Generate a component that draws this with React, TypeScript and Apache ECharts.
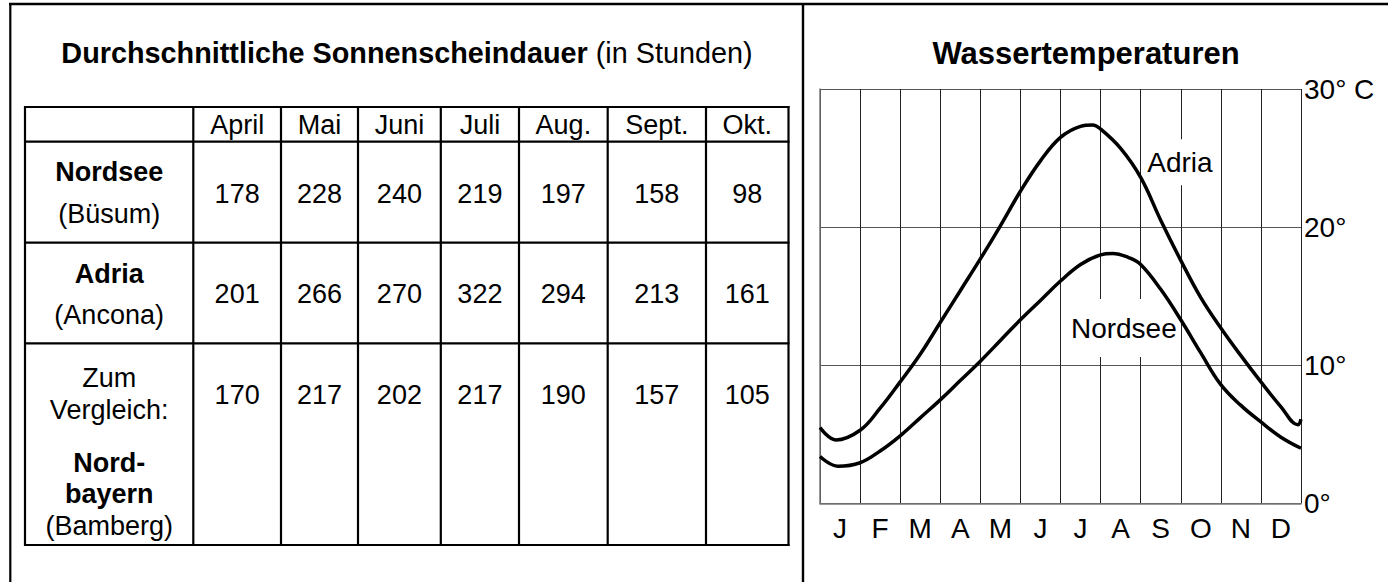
import React, { useEffect, useRef } from "react";
import * as echarts from "echarts";

// ---- data ----
const tableMonths = ["April", "Mai", "Juni", "Juli", "Aug.", "Sept.", "Okt."];
const nordseeHours = [178, 228, 240, 219, 197, 158, 98];
const adriaHours = [201, 266, 270, 322, 294, 213, 161];
const bayernHours = [170, 217, 202, 217, 190, 157, 105];

const tempMonths = ["J", "F", "M", "A", "M", "J", "J", "A", "S", "O", "N", "D"];
// [month position (0 = start of Jan, 12 = end of Dec), water temperature °C]
const adriaTemp: [number, number][] = [
  [0, 5.5], [0.4, 4.6], [1.0, 5.3], [1.5, 6.9], [2.0, 8.8], [2.5, 10.8], [3.0, 13.1],
  [3.5, 15.4], [4.0, 17.7], [4.5, 20.1], [5.0, 22.6], [5.5, 24.8], [6.0, 26.5],
  [6.5, 27.3], [6.8, 27.4], [7.0, 27.1], [7.5, 25.7], [8.0, 23.6], [8.5, 20.5],
  [9.0, 17.6], [9.5, 14.9], [10.0, 12.7], [10.5, 10.7], [11.0, 8.8], [11.5, 7.0],
  [11.92, 5.7], [12.0, 6.1],
];
const nordseeTemp: [number, number][] = [
  [0, 3.4], [0.45, 2.7], [1.0, 2.95], [1.5, 3.8], [2.0, 4.9], [2.5, 6.2], [3.0, 7.5],
  [3.5, 8.9], [4.0, 10.3], [4.5, 11.8], [5.0, 13.3], [5.5, 14.7], [6.0, 16.1],
  [6.5, 17.3], [7.0, 18.0], [7.3, 18.1], [7.7, 17.8], [8.0, 17.3], [8.5, 15.5],
  [9.0, 13.3], [9.5, 10.9], [10.0, 8.6], [10.5, 7.1], [11.0, 5.9], [11.5, 4.8], [12, 4.0],
];
const tempTicks = [0, 10, 20, 30];

// ---- layout ----
const FONT = '"Liberation Sans", Arial, Helvetica, sans-serif';
const FS = 27;
const colX = [25, 193.3, 281, 358, 440.8, 519, 607.7, 706, 788.5];
const rowY = [107, 141.7, 242.7, 343.3, 545];
const ADRIA_LABEL_AT = [8.98, 24.7];
const NORDSEE_LABEL_AT = [7.58, 12.7];

function txt(text: string, x: number, y: number, bold = false, size = FS) {
  return {
    type: "text",
    x,
    y,
    silent: true,
    style: {
      text,
      fill: "#000",
      fontSize: size,
      fontFamily: FONT,
      fontWeight: bold ? "bold" : "normal",
      align: "center",
      verticalAlign: "middle",
    },
  };
}

function line(x1: number, y1: number, x2: number, y2: number, w = 2.2) {
  return {
    type: "line",
    silent: true,
    shape: { x1, y1, x2, y2 },
    style: { stroke: "#000", lineWidth: w },
  };
}

function buildGraphic() {
  const els: any[] = [];
  // frame
  els.push(line(9, 4, 1388, 4, 2.5));
  els.push(line(10.3, 3, 10.3, 582, 2.2));
  els.push(line(803, 3, 803, 582, 2.4));
  // titles
  els.push({
    type: "text",
    x: 407,
    y: 53,
    silent: true,
    style: {
      text: "{b|Durchschnittliche Sonnenscheindauer} (in Stunden)",
      fill: "#000",
      fontSize: 28.8,
      fontFamily: FONT,
      align: "center",
      verticalAlign: "middle",
      rich: { b: { fontWeight: "bold", fontSize: 28.8, fontFamily: FONT, fill: "#000" } },
    },
  });
  els.push(txt("Wassertemperaturen", 1086, 53, true, 31));
  // table grid
  rowY.forEach((y) => els.push(line(colX[0] - 1, y, colX[colX.length - 1] + 1, y)));
  colX.forEach((x, i) =>
    els.push(line(x, i === 0 || i === colX.length - 1 ? rowY[0] - 1 : rowY[0], x, rowY[rowY.length - 1] + 1))
  );
  const cx = (i: number) => (colX[i] + colX[i + 1]) / 2;
  // header
  tableMonths.forEach((m, i) => els.push(txt(m, cx(i + 1), 125)));
  // row labels
  els.push(txt("Nordsee", cx(0), 172, true));
  els.push(txt("(Büsum)", cx(0), 214));
  els.push(txt("Adria", cx(0), 274, true));
  els.push(txt("(Ancona)", cx(0), 315));
  els.push(txt("Zum", cx(0), 378));
  els.push(txt("Vergleich:", cx(0), 410));
  els.push(txt("Nord-", cx(0), 463, true));
  els.push(txt("bayern", cx(0), 494, true));
  els.push(txt("(Bamberg)", cx(0), 526));
  // values
  nordseeHours.forEach((v, i) => els.push(txt(String(v), cx(i + 1), 194)));
  adriaHours.forEach((v, i) => els.push(txt(String(v), cx(i + 1), 294)));
  bayernHours.forEach((v, i) => els.push(txt(String(v), cx(i + 1), 395)));
  return els;
}

function seaLabel(name: string, at: number[], padding: number[]) {
  return {
    symbol: "rect",
    symbolSize: 0,
    silent: true,
    z: 2,
    label: {
      show: true,
      position: "inside",
      formatter: name,
      color: "#000",
      fontSize: 28,
      fontFamily: FONT,
      backgroundColor: "#fff",
      padding,
    },
    data: [{ coord: at }],
  };
}

export default function App() {
  const ref = useRef<HTMLDivElement>(null);
  useEffect(() => {
    if (!ref.current) return;
    const chart = echarts.init(ref.current, undefined, { renderer: "svg" });
    chart.setOption({
      animation: false,
      backgroundColor: "#fff",
      textStyle: { fontFamily: FONT },
      grid: { left: 820, right: 87, top: 89, bottom: 78.5, containLabel: false },
      xAxis: [
        {
          type: "category",
          data: tempMonths,
          boundaryGap: true,
          axisTick: { show: false },
          axisLine: { show: true, lineStyle: { color: "#777", width: 1.5 } },
          axisLabel: { color: "#000", fontSize: 28, margin: 11, interval: 0, fontFamily: FONT },
          splitLine: { show: true, interval: 0, lineStyle: { color: "#222", width: 1 } },
        },
        { type: "value", min: 0, max: 12, show: false },
      ],
      yAxis: {
        type: "value",
        position: "right",
        min: tempTicks[0],
        max: tempTicks[tempTicks.length - 1],
        interval: 10,
        axisLine: { show: true, lineStyle: { color: "#777", width: 1.5 } },
        axisTick: { show: false },
        axisLabel: {
          color: "#000",
          fontSize: 28,
          margin: 3,
          fontFamily: FONT,
          formatter: (v: number) => (v === 30 ? "30° C" : `${v}°`),
        },
        splitLine: { show: true, lineStyle: { color: "#555", width: 1.2 } },
      },
      series: [
        {
          type: "line",
          name: "Adria",
          xAxisIndex: 1,
          data: adriaTemp,
          smooth: 0.4,
          symbol: "none",
          z: 3,
          lineStyle: { color: "#000", width: 3.5 },
          markPoint: seaLabel("Adria", ADRIA_LABEL_AT, [10, 0, 8, 0]),
        },
        {
          type: "line",
          name: "Nordsee",
          xAxisIndex: 1,
          data: nordseeTemp,
          smooth: 0.4,
          symbol: "none",
          z: 3,
          lineStyle: { color: "#000", width: 3.5 },
          markPoint: seaLabel("Nordsee", NORDSEE_LABEL_AT, [22, 0, 8, 0]),
        },
      ],
      graphic: buildGraphic(),
    });
    return () => chart.dispose();
  }, []);
  return (
    <div
      ref={ref}
      style={{ position: "fixed", left: 0, top: 0, width: 1388, height: 582, background: "#fff" }}
    />
  );
}
